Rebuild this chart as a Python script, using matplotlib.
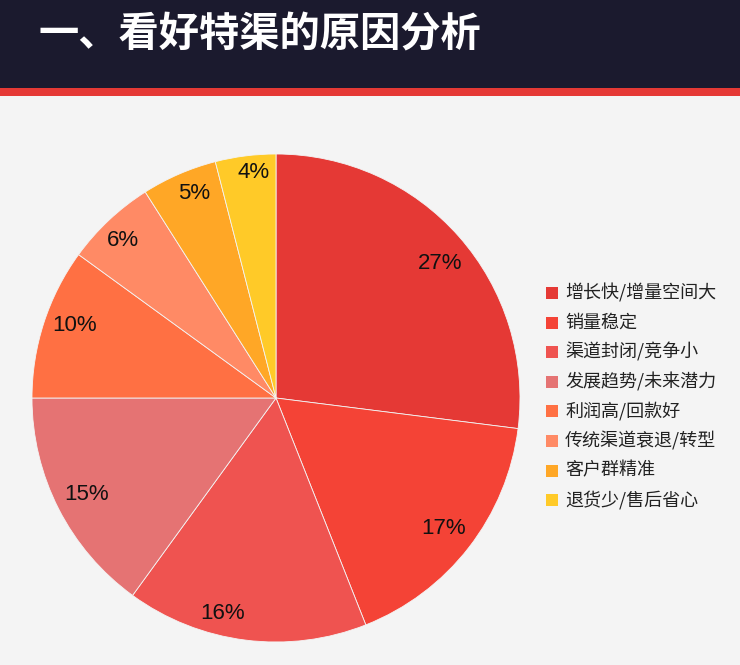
import matplotlib
matplotlib.use("Agg")
import matplotlib.pyplot as plt
from matplotlib.patches import Rectangle

plt.rcParams['font.family'] = ['Noto Sans CJK SC', 'DejaVu Sans']

title = "一、看好特渠的原因分析"
reasons = ["增长快/增量空间大", "销量稳定", "渠道封闭/竞争小", "发展趋势/未来潜力",
           "利润高/回款好", "传统渠道衰退/转型", "客户群精准", "退货少/售后省心"]
shares = [27, 17, 16, 15, 10, 6, 5, 4]
colors = ["#e53935", "#f44336", "#ef5350", "#e57373",
          "#ff7043", "#ff8a65", "#ffa726", "#ffca28"]

W, H = 740, 665
fig = plt.figure(figsize=(W / 100, H / 100), dpi=100)
fig.patch.set_facecolor("#f4f4f4")

# header band + red stripe
fig.patches.append(Rectangle((0, 1 - 88 / H), 1, 88 / H, transform=fig.transFigure,
                             facecolor="#1b1a2e", edgecolor="none"))
fig.patches.append(Rectangle((0, 1 - 96 / H), 1, 8 / H, transform=fig.transFigure,
                             facecolor="#e53935", edgecolor="none"))
fig.text(38 / W, 1 - 35 / H, title, color="white", fontsize=29, fontweight="bold",
         va="center", ha="left")

# pie
cx, cy, r = 276, 398, 244
pad = 1.02
ax = fig.add_axes([(cx - r * pad) / W, 1 - (cy + r * pad) / H, 2 * r * pad / W, 2 * r * pad / H])
wedges, texts, autotexts = ax.pie(
    shares, colors=colors, startangle=90, counterclock=False,
    autopct=lambda p: f"{p:.0f}%", pctdistance=0.87,
    wedgeprops=dict(edgecolor="#f4f4f4", linewidth=0.6),
    textprops=dict(fontsize=16, family=["Liberation Sans", "DejaVu Sans"], color="#111111"))

# small label nudges (data units) so labels sit where the original put them
nudge = {0: (0.02, -0.025), 2: (-0.11, -0.02), 4: (0.0, 0.03),
         5: (-0.03, 0.012), 6: (0.01, 0.04), 7: (0.016, 0.06)}
for i, (dx, dy) in nudge.items():
    x, y = autotexts[i].get_position()
    autotexts[i].set_position((x + dx, y + dy))

ax.set_xlim(-pad, pad)
ax.set_ylim(-pad, pad)
ax.set_aspect("equal")
ax.axis("off")

# legend
y0, dy = 293, 29.6
for i, (lab, c) in enumerate(zip(reasons, colors)):
    y = y0 + i * dy
    fig.patches.append(Rectangle((546 / W, 1 - (y + 6) / H), 12 / W, 12 / H,
                                 transform=fig.transFigure, facecolor=c, edgecolor="none"))
    fig.text(565 / W, 1 - y / H, lab, fontsize=13, color="#222222", va="center", ha="left")

fig.savefig("out.png", dpi=100, facecolor=fig.get_facecolor())
